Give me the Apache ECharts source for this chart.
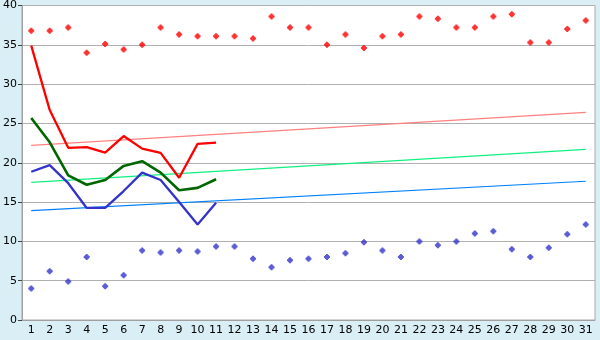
<!DOCTYPE html>
<html><head><meta charset="utf-8">
<script src="https://cdn.jsdelivr.net/npm/echarts@6/dist/echarts.min.js"></script>
<style>html,body{margin:0;padding:0;background:#d9eff5}#c{width:600px;height:340px}</style>
</head><body><div id="c"></div>
<script>
var days = ['1','2','3','4','5','6','7','8','9','10','11','12','13','14','15','16','17','18','19','20','21','22','23','24','25','26','27','28','29','30','31'];
var recordMax = [36.8,36.8,37.2,34.0,35.1,34.4,35.0,37.2,36.3,36.1,36.1,36.1,35.8,38.6,37.2,37.2,35.0,36.3,34.6,36.1,36.3,38.6,38.3,37.2,37.2,38.6,38.9,35.3,35.3,37.0,38.1];
var recordMin = [4.0,6.2,4.9,8.0,4.3,5.7,8.85,8.6,8.85,8.7,9.35,9.35,7.8,6.7,7.6,7.8,8.0,8.5,9.9,8.85,8.0,10.0,9.5,10.0,11.0,11.3,9.0,8.0,9.2,10.9,12.15];
var tMax = [34.9,26.7,21.9,22.0,21.3,23.4,21.8,21.25,18.1,22.4,22.55];
var tMean = [25.7,22.6,18.4,17.2,17.8,19.6,20.2,18.75,16.5,16.8,17.9];
var tMin = [18.85,19.7,17.4,14.25,14.25,16.4,18.75,17.8,15.0,12.15,14.9];
// normal lines: value at day 1 and day 31
var normMaxEnds = [22.2,26.4];
var normMeanEnds = [17.5,21.7];
var normMinEnds = [13.9,17.65];
var yTicks = [0,5,10,15,20,25,30,35,40];

function ends(e){var a=days.map(function(){return null;});a[0]=e[0];a[a.length-1]=e[1];return a;}
var plus='path://M2,0h2v1h1v1h1v2h-1v1h-1v1h-2v-1h-1v-1h-1v-2h1v-1h1z';
var chart = echarts.init(document.getElementById('c'));
var font = 'DejaVu Sans';
chart.setOption({
  backgroundColor:'#d9eff5',
  animation:false,
  grid:{left:20,right:5,top:5,bottom:20,show:true,backgroundColor:'#ffffff',borderColor:'#a8a8a8',borderWidth:1},
  xAxis:{type:'category',data:days,boundaryGap:true,
    axisLine:{lineStyle:{color:'#a0a0a0',width:1}},
    axisTick:{alignWithLabel:true,length:4,lineStyle:{color:'#404040'}},
    axisLabel:{color:'#000',fontFamily:font,fontSize:11,margin:5,interval:0}},
  yAxis:{type:'value',min:0,max:40,interval:5,
    axisLine:{show:true,lineStyle:{color:'#a0a0a0'}},
    axisTick:{show:true,length:4,lineStyle:{color:'#404040'}},
    splitLine:{lineStyle:{color:'#b0b0b0',width:1}},
    axisLabel:{color:'#000',fontFamily:font,fontSize:11,margin:5}},
  series:[
    {type:'line',data:ends(normMaxEnds),connectNulls:true,showSymbol:false,lineStyle:{color:'#ff8080',width:1.2},z:1},
    {type:'line',data:ends(normMeanEnds),connectNulls:true,showSymbol:false,lineStyle:{color:'#10f080',width:1.2},z:1},
    {type:'line',data:ends(normMinEnds),connectNulls:true,showSymbol:false,lineStyle:{color:'#0080ff',width:1.2},z:1},
    {type:'line',data:tMax,showSymbol:false,lineStyle:{color:'#ff0000',width:2.3},z:3},
    {type:'line',data:tMean,showSymbol:false,lineStyle:{color:'#006600',width:2.6},z:3},
    {type:'line',data:tMin,showSymbol:false,lineStyle:{color:'#3333cc',width:2.3},z:3},
    {type:'scatter',data:recordMax,symbol:plus,symbolSize:6,itemStyle:{color:'#ff0000'},z:4},
    {type:'scatter',data:recordMin,symbol:plus,symbolSize:6,itemStyle:{color:'#3333cc'},z:4}
  ]
});
</script></body></html>
